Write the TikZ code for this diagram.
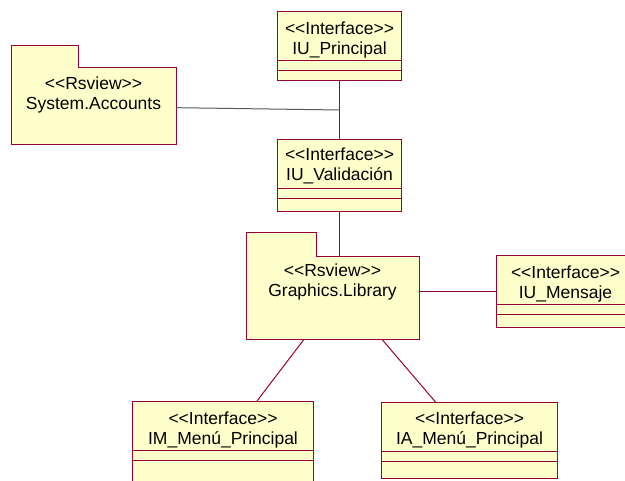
\documentclass[tikz,border=0pt]{standalone}
\usepackage{fontspec}
\setmainfont{Liberation Sans}[Ligatures=TeXOff]
\usepackage{tikz}
\usepackage{xcolor}
\definecolor{roseline}{RGB}{153,0,51}
\definecolor{rosefill}{RGB}{255,255,204}

\begin{document}
\begin{tikzpicture}[x=1pt,y=-1pt,line width=1pt,
    iface/.style={draw=roseline, fill=rosefill, anchor=north west, inner sep=0pt},
    pkgbody/.style={fill=rosefill, anchor=north west, inner sep=0pt},
    caption/.style={align=center, font=\fontsize{17.5}{20.5}\selectfont, inner sep=0pt},
    link/.style={draw=roseline}]
    \clip (0,0) rectangle (625,481);
    \fill[white] (0,0) rectangle (625,481);
    % packages
    \node[pkgbody, minimum width=164pt, minimum height=76pt] (accounts) at (11,68) {};
    \fill[rosefill] ([yshift=22pt]accounts.north west) rectangle ++(67,22);
    \draw[roseline] (accounts.south west) -- ([yshift=22pt]accounts.north west) -- ++(67,0)
        -- ++(0,22) -- (accounts.north east) -- (accounts.south east) -- cycle;
    \node[caption] at ([yshift=-27pt]accounts.north) {<<Rsview>>\\System.Accounts};

    \node[pkgbody, minimum width=172pt, minimum height=82pt] (graphics) at (246,257) {};
    \fill[rosefill] ([yshift=24pt]graphics.north west) rectangle ++(70,24);
    \draw[roseline] (graphics.south west) -- ([yshift=24pt]graphics.north west) -- ++(70,0)
        -- ++(0,24) -- (graphics.north east) -- (graphics.south east) -- cycle;
    \node[caption] at ([yshift=-25pt]graphics.north) {<<Rsview>>\\Graphics.Library};

    % interfaces
    \node[iface, minimum width=124pt, minimum height=69pt] (principal) at (277,11) {};
    \node[caption] at ([yshift=-29pt]principal.north) {<<Interface>>\\IU\_Principal};
    \draw[roseline] ([yshift=-50pt]principal.north west) -- ([yshift=-50pt]principal.north east);
    \draw[roseline] ([yshift=-60pt]principal.north west) -- ([yshift=-60pt]principal.north east);

    \node[iface, minimum width=124pt, minimum height=72pt] (validacion) at (277,139) {};
    \node[caption] at ([yshift=-27pt]validacion.north) {<<Interface>>\\IU\_Validación};
    \draw[roseline] ([yshift=-50pt]validacion.north west) -- ([yshift=-50pt]validacion.north east);
    \draw[roseline] ([yshift=-60pt]validacion.north west) -- ([yshift=-60pt]validacion.north east);

    \node[iface, minimum width=138pt, minimum height=72pt] (mensaje) at (496,255) {};
    \node[caption] at ([yshift=-29pt]mensaje.north) {<<Interface>>\\IU\_Mensaje};
    \draw[roseline] ([yshift=-50pt]mensaje.north west) -- ([yshift=-50pt]mensaje.north east);
    \draw[roseline] ([yshift=-60pt]mensaje.north west) -- ([yshift=-60pt]mensaje.north east);

    \node[iface, minimum width=181pt, minimum height=82pt] (immenu) at (132,401) {};
    \node[caption] at ([yshift=-29pt]immenu.north) {<<Interface>>\\IM\_Menú\_Principal};
    \draw[roseline] ([yshift=-50pt]immenu.north west) -- ([yshift=-50pt]immenu.north east);
    \draw[roseline] ([yshift=-60pt]immenu.north west) -- ([yshift=-60pt]immenu.north east);

    \node[iface, minimum width=176pt, minimum height=76pt] (iamenu) at (381,402) {};
    \node[caption] at ([yshift=-28pt]iamenu.north) {<<Interface>>\\IA\_Menú\_Principal};
    \draw[roseline] ([yshift=-50pt]iamenu.north west) -- ([yshift=-50pt]iamenu.north east);
    \draw[roseline] ([yshift=-60pt]iamenu.north west) -- ([yshift=-60pt]iamenu.north east);

    % links
    \draw[link] (principal) -- coordinate (joint) (validacion);
    \draw[black!65] (accounts) -- (joint);
    \draw[link] (validacion) -- (validacion |- graphics.north);
    \draw[link] (mensaje) -- (mensaje.west -| graphics.east);
    \draw[link] ([xshift=-29pt]graphics.south) -- ([xshift=34pt]immenu.north);
    \draw[link] ([xshift=50pt]graphics.south) -- ([xshift=-34pt]iamenu.north);
\end{tikzpicture}
\end{document}
